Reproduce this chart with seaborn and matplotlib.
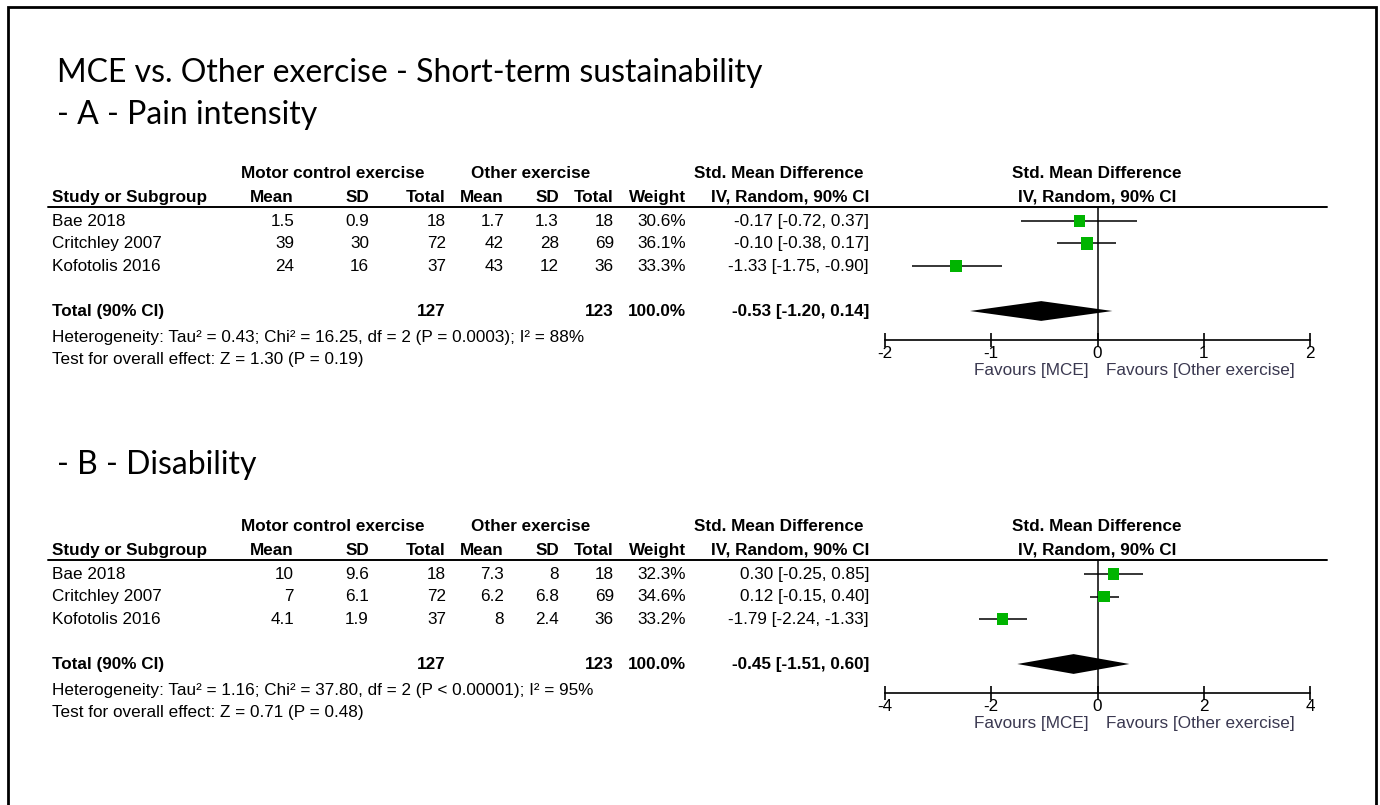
import matplotlib
matplotlib.use("Agg")
import matplotlib.pyplot as plt
import seaborn as sns
import pandas as pd

sns.set_style("white")
plt.rcParams["font.family"] = ["Liberation Sans", "DejaVu Sans"]
plt.rcParams["text.color"] = "black"
plt.rcParams["xtick.color"] = "black"
plt.rcParams["axes.edgecolor"] = "black"

# ---- data -------------------------------------------------------------
studies = ["Bae 2018", "Critchley 2007", "Kofotolis 2016"]

# Panel A - pain intensity
a_mce_mean = [1.5, 39, 24]
a_mce_sd = [0.9, 30, 16]
a_mce_n = [18, 72, 37]
a_oth_mean = [1.7, 42, 43]
a_oth_sd = [1.3, 28, 12]
a_oth_n = [18, 69, 36]
a_weight = [30.6, 36.1, 33.3]
a_smd = [-0.17, -0.10, -1.33]
a_lo = [-0.72, -0.38, -1.75]
a_hi = [0.37, 0.17, -0.90]
a_total = (-0.53, -1.20, 0.14)
a_het = "Heterogeneity: Tau\u00b2 = 0.43; Chi\u00b2 = 16.25, df = 2 (P = 0.0003); I\u00b2 = 88%"
a_test = "Test for overall effect: Z = 1.30 (P = 0.19)"
a_ticks = [-2, -1, 0, 1, 2]

# Panel B - disability
b_mce_mean = [10, 7, 4.1]
b_mce_sd = [9.6, 6.1, 1.9]
b_mce_n = [18, 72, 37]
b_oth_mean = [7.3, 6.2, 8]
b_oth_sd = [8, 6.8, 2.4]
b_oth_n = [18, 69, 36]
b_weight = [32.3, 34.6, 33.2]
b_smd = [0.30, 0.12, -1.79]
b_lo = [-0.25, -0.15, -2.24]
b_hi = [0.85, 0.40, -1.33]
b_total = (-0.45, -1.51, 0.60)
b_het = "Heterogeneity: Tau\u00b2 = 1.16; Chi\u00b2 = 37.80, df = 2 (P < 0.00001); I\u00b2 = 95%"
b_test = "Test for overall effect: Z = 0.71 (P = 0.48)"
b_ticks = [-4, -2, 0, 2, 4]

total_weight = 100.0

W, H = 1380, 805
fig = plt.figure(figsize=(W / 100, H / 100), dpi=100)
bg = fig.add_axes([0, 0, 1, 1])
bg.set_xlim(0, W)
bg.set_ylim(H, 0)
bg.axis("off")

# outer frame (open at the bottom)
bg.plot([8, 8, 1376, 1376], [H + 5, 7, 7, H + 5], color="black", lw=2, solid_joinstyle="miter")

TITLE_FONT = ["Lato", "DejaVu Sans"]
TFS = 23
bg.text(57, 73, "MCE vs. Other exercise - Short-term sustainability", fontsize=TFS,
        family=TITLE_FONT, va="center", ha="left")
bg.text(57, 115, "- A - Pain intensity", fontsize=TFS, family=TITLE_FONT, va="center", ha="left")
bg.text(57, 465, "- B - Disability", fontsize=TFS, family=TITLE_FONT, va="center", ha="left")

FS = 12.3
ROW = 22.5
COLS = [294, 369, 446, 504, 559, 614, 686, 869]


def fmt(v):
    return f"{v:g}"


def panel(top, mce_m, mce_s, mce_n, oth_m, oth_s, oth_n, weight, smd, lo, hi, total,
          het, test, ticks, xmax):
    y_grp = top
    y_hdr = top + 24
    y_line = top + 34
    y0 = top + 48
    # group headers
    bold = dict(fontsize=FS, fontweight="bold", va="center")
    bg.text(333, y_grp, "Motor control exercise", ha="center", **bold)
    bg.text(531, y_grp, "Other exercise", ha="center", **bold)
    bg.text(779, y_grp, "Std. Mean Difference", ha="center", **bold)
    bg.text(1097, y_grp, "Std. Mean Difference", ha="center", **bold)
    bg.text(52, y_hdr, "Study or Subgroup", ha="left", **bold)
    for x, lab in zip(COLS, ["Mean", "SD", "Total", "Mean", "SD", "Total", "Weight",
                             "IV, Random, 90% CI"]):
        bg.text(x, y_hdr, lab, ha="right", **bold)
    bg.text(1097, y_hdr, "IV, Random, 90% CI", ha="center", **bold)
    bg.plot([48, 1327], [y_line, y_line], color="black", lw=1.4)

    norm = dict(fontsize=FS, va="center")
    for i, s in enumerate(studies):
        y = y0 + i * ROW
        bg.text(52, y, s, ha="left", **norm)
        vals = [fmt(mce_m[i]), fmt(mce_s[i]), str(mce_n[i]), fmt(oth_m[i]), fmt(oth_s[i]),
                str(oth_n[i]), f"{weight[i]:.1f}%",
                f"{smd[i]:.2f} [{lo[i]:.2f}, {hi[i]:.2f}]"]
        for x, v in zip(COLS, vals):
            bg.text(x, y, v, ha="right", **norm)
    yt = y0 + 4 * ROW
    bg.text(52, yt, "Total (90% CI)", ha="left", **bold)
    bg.text(COLS[2], yt, str(sum(mce_n)), ha="right", **bold)
    bg.text(COLS[5], yt, str(sum(oth_n)), ha="right", **bold)
    bg.text(COLS[6], yt, f"{total_weight:.1f}%", ha="right", **bold)
    bg.text(COLS[7], yt, f"{total[0]:.2f} [{total[1]:.2f}, {total[2]:.2f}]", ha="right", **bold)
    bg.text(52, yt + 26, het, ha="left", **norm)
    bg.text(52, yt + 48, test, ha="left", **norm)

    # forest plot axes: x in SMD units, y in row units
    y_axis = yt + 29
    r_top = (y_line - y0) / ROW
    r_bot = (y_axis - y0) / ROW
    ax = fig.add_axes([885 / W, 1 - y_axis / H, 425 / W, (y_axis - y_line) / H])
    ax.set_xlim(-xmax, xmax)
    ax.set_ylim(r_bot, r_top)
    ax.patch.set_alpha(0)
    for sp in ["top", "left", "right"]:
        ax.spines[sp].set_visible(False)
    ax.spines["bottom"].set_linewidth(1.2)
    ax.spines["bottom"].set_color("black")
    ax.axvline(0, color="black", lw=1.1, zorder=1)
    df = pd.DataFrame({"smd": smd, "row": range(len(smd)), "w": weight})
    ax.hlines(df["row"], lo, hi, color="black", lw=1.1, zorder=2)
    sns.scatterplot(data=df, x="smd", y="row", marker="s", s=[w * 2.1 for w in weight],
                    color="#00b400", edgecolor="none", ax=ax, zorder=3, legend=False)
    ax.fill([total[1], total[0], total[2], total[0]], [4, 4 - 0.44, 4, 4 + 0.44],
            color="black", lw=0, zorder=4)
    ax.set_xticks(ticks)
    ax.set_xticklabels([str(t) for t in ticks], fontsize=FS)
    ax.tick_params(axis="x", direction="inout", length=10, width=1.2, pad=-1, bottom=True,
                   colors="black")
    ax.set_yticks([])
    ax.set_xlabel("")
    ax.set_ylabel("")
    fav = dict(fontsize=FS, va="center", color="#3a3850")
    bg.text(1089, y_axis + 30, "Favours [MCE]", ha="right", **fav)
    bg.text(1106, y_axis + 30, "Favours [Other exercise]", ha="left", **fav)


panel(173, a_mce_mean, a_mce_sd, a_mce_n, a_oth_mean, a_oth_sd, a_oth_n, a_weight, a_smd,
      a_lo, a_hi, a_total, a_het, a_test, a_ticks, 2)
panel(526, b_mce_mean, b_mce_sd, b_mce_n, b_oth_mean, b_oth_sd, b_oth_n, b_weight, b_smd,
      b_lo, b_hi, b_total, b_het, b_test, b_ticks, 4)

fig.savefig("out.png", dpi=100)
